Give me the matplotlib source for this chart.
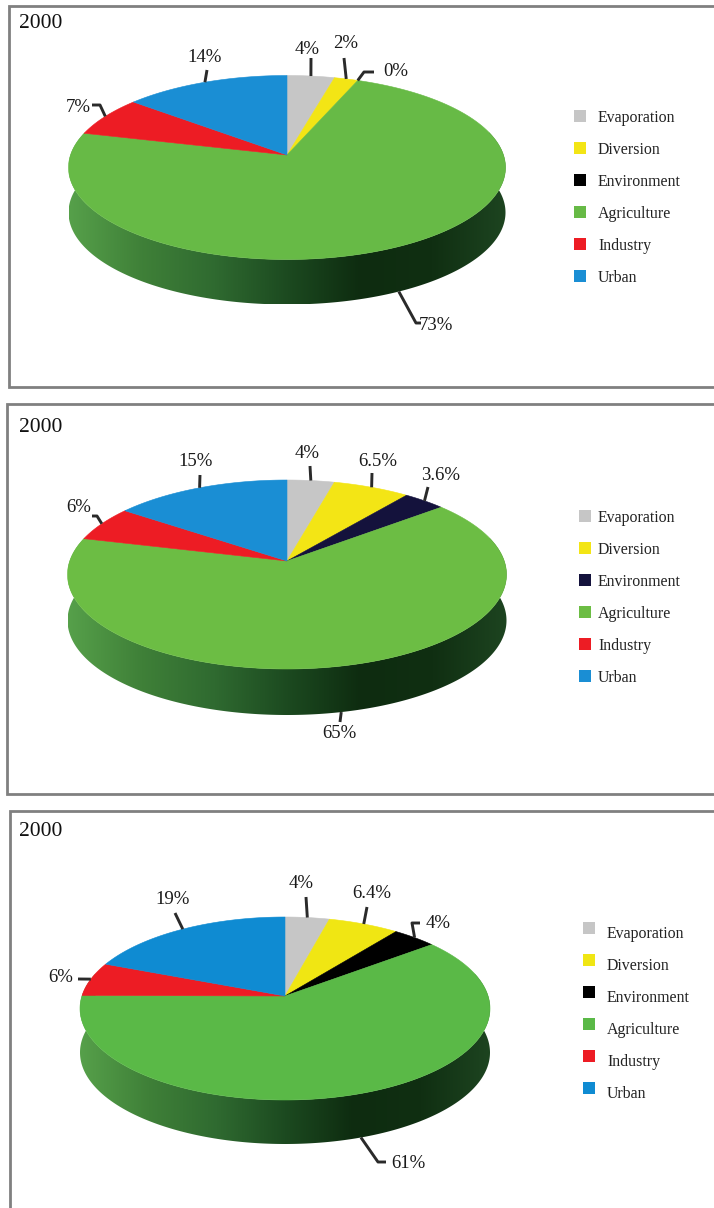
import numpy as np
import matplotlib
matplotlib.use("Agg")
import matplotlib.pyplot as plt
from matplotlib.colors import LinearSegmentedColormap
from matplotlib.patches import Polygon

plt.rcParams['font.family'] = ['Liberation Serif', 'DejaVu Serif']

# ---------------- DATA ----------------
categories = ["Evaporation", "Diversion", "Environment", "Agriculture", "Industry", "Urban"]
panel_titles = ["2000", "2000", "2000"]
values_1 = [4, 2, 0, 73, 7, 14]
values_2 = [4, 6.5, 3.6, 65, 6, 15]
values_3 = [4, 6.4, 4, 61, 6, 19]
labels_1 = ["4%", "2%", "0%", "73%", "7%", "14%"]
labels_2 = ["4%", "6.5%", "3.6%", "65%", "6%", "15%"]
labels_3 = ["4%", "6.4%", "4%", "61%", "6%", "19%"]

# ---------------- STYLE / LAYOUT (image pixels) ----------------
colors_1 = ["#c6c6c6", "#f3e515", "#000000", "#67ba46", "#ed1c24", "#1a8ed4"]
colors_2 = ["#c6c6c6", "#f3e515", "#14123c", "#6cbd44", "#ed1c24", "#1a8ed4"]
colors_3 = ["#c6c6c6", "#f0e613", "#000000", "#5ab947", "#ed1c24", "#0f8bd2"]

wall_cmap = LinearSegmentedColormap.from_list(
    "wall", ["#56a04a", "#3f8038", "#2f6a30", "#1c4a20", "#0e2c10", "#102f12", "#1d4420"])

# cx, apex y, half width, top y, bottom y of the top face, wall depth
geom_1 = (287, 155, 218.5, 75.5, 259.5, 45)
geom_2 = (287, 561, 219.5, 480, 669, 46)
geom_3 = (285, 996, 205, 917, 1100, 44)

# leader lines start on the slice rim, then run through these points
leaders_1 = [[(311, 58)], [(344, 58)], [(364, 72), (374, 72)],
             [(416, 323), (421, 323)], [(100, 105), (92, 105)], [(207, 70)]]
leaders_2 = [[(310, 466)], [(372, 473)], [(428, 487)],
             [(340, 722)], [(97, 516), (92, 516)], [(200, 475)]]
leaders_3 = [[(306, 897)], [(367, 907)], [(412, 923), (420, 923)],
             [(378, 1162), (386, 1162)], [(78, 979)], [(175, 913)]]
label_pos_1 = [(307, 49), (346, 43), (396, 72), (436, 326), (78, 108), (205, 58)]
label_pos_2 = [(307, 453), (378, 461), (441, 476), (339, 734), (79, 507), (196, 462)]
label_pos_3 = [(301, 883), (372, 894), (438, 923), (408, 1163), (61, 977), (173, 900)]

legend_1 = (580, 598, 118, -2)
legend_2 = (585, 598, 518, -2)
legend_3 = (589, 607, 934, -6)

frame_1 = (9, 6, 387)
frame_2 = (7, 404, 794)
frame_3 = (10, 811, 1215)
title_pos = [(19, 23), (19, 427), (19, 832)]

W, H = 714, 1208
fig = plt.figure(figsize=(W / 100, H / 100), dpi=100)
ax = fig.add_axes([0, 0, 1, 1])
ax.set_xlim(0, W)
ax.set_ylim(H, 0)
ax.axis("off")


def rim_points(t_deg, geom):
    """Clockwise-from-top angle on the disc -> picture pixels (perspective view)."""
    cx, apex, half_w, top, bottom, depth = geom
    up, down = apex - top, bottom - apex
    c = (up - down) / (up + down)
    A = up * (1 - c)
    B = half_w * np.sqrt(1 - c ** 2)
    t = np.radians(t_deg)
    u, v = np.sin(t), np.cos(t)
    den = 1 - c * v
    return cx + B * u / den, apex - A * v / den


def draw_panel(values, labels, colors, geom, leaders, label_pos, legend, frame, title, tpos):
    left, top_y, bot_y = frame
    ax.plot([W + 5, left, left, W + 5], [top_y, top_y, bot_y, bot_y], color="#808080", lw=2.0,
            solid_joinstyle="miter", zorder=1)
    ax.text(tpos[0], tpos[1], title, fontsize=15.5, ha="left", va="center", color="#111111")

    cx, apex, half_w, top, bottom, depth = geom

    # side wall with its left to right shading
    tw = np.linspace(75, 285, 300)
    xw, yw = rim_points(tw, geom)
    wall = Polygon(np.vstack([np.column_stack([xw, yw]),
                              np.column_stack([xw[::-1], yw[::-1] + depth])]),
                   closed=True, facecolor="none", edgecolor="none", zorder=2)
    ax.add_patch(wall)
    grad = np.linspace(0, 1, 256).reshape(1, -1)
    im = ax.imshow(grad, cmap=wall_cmap, extent=(cx - half_w, cx + half_w, bottom + depth, top),
                   aspect="auto", zorder=2)
    im.set_clip_path(wall)
    ax.set_xlim(0, W)
    ax.set_ylim(H, 0)

    # top face
    total = sum(values)
    edges = np.cumsum([0] + list(values)) / total * 360
    for i, val in enumerate(values):
        if val == 0:
            continue
        ts = np.linspace(edges[i], edges[i + 1], 200)
        xs, ys = rim_points(ts, geom)
        pts = np.vstack([[cx, apex], np.column_stack([xs, ys])])
        ax.add_patch(Polygon(pts, closed=True, facecolor=colors[i], edgecolor=colors[i],
                             lw=0.4, zorder=3))

    # leaders and value labels
    for i, lab in enumerate(labels):
        mid = (edges[i] + edges[i + 1]) / 2
        x0, y0 = rim_points(mid, geom)
        if 90 < mid < 270:
            y0 = y0 + depth
        path = [(float(x0), float(y0))] + leaders[i]
        ax.plot([p[0] for p in path], [p[1] for p in path], color="#2a2a2a", lw=2.1,
                solid_capstyle="butt", zorder=4)
        ax.text(label_pos[i][0], label_pos[i][1], lab, fontsize=13.5, ha="center", va="center",
                color="#1a1a1a", zorder=5)

    # legend
    mx, tx, y0, dy = legend
    for i, name in enumerate(categories):
        y = y0 + 32 * i
        ax.scatter([mx], [y + dy], marker="s", s=74, color=colors[i], linewidths=0, zorder=4)
        ax.text(tx, y, name, fontsize=11.4, ha="left", va="center", color="#222222")


draw_panel(values_1, labels_1, colors_1, geom_1, leaders_1, label_pos_1, legend_1, frame_1,
           panel_titles[0], title_pos[0])
draw_panel(values_2, labels_2, colors_2, geom_2, leaders_2, label_pos_2, legend_2, frame_2,
           panel_titles[1], title_pos[1])
draw_panel(values_3, labels_3, colors_3, geom_3, leaders_3, label_pos_3, legend_3, frame_3,
           panel_titles[2], title_pos[2])

fig.savefig("out.png", dpi=100, facecolor="white")
